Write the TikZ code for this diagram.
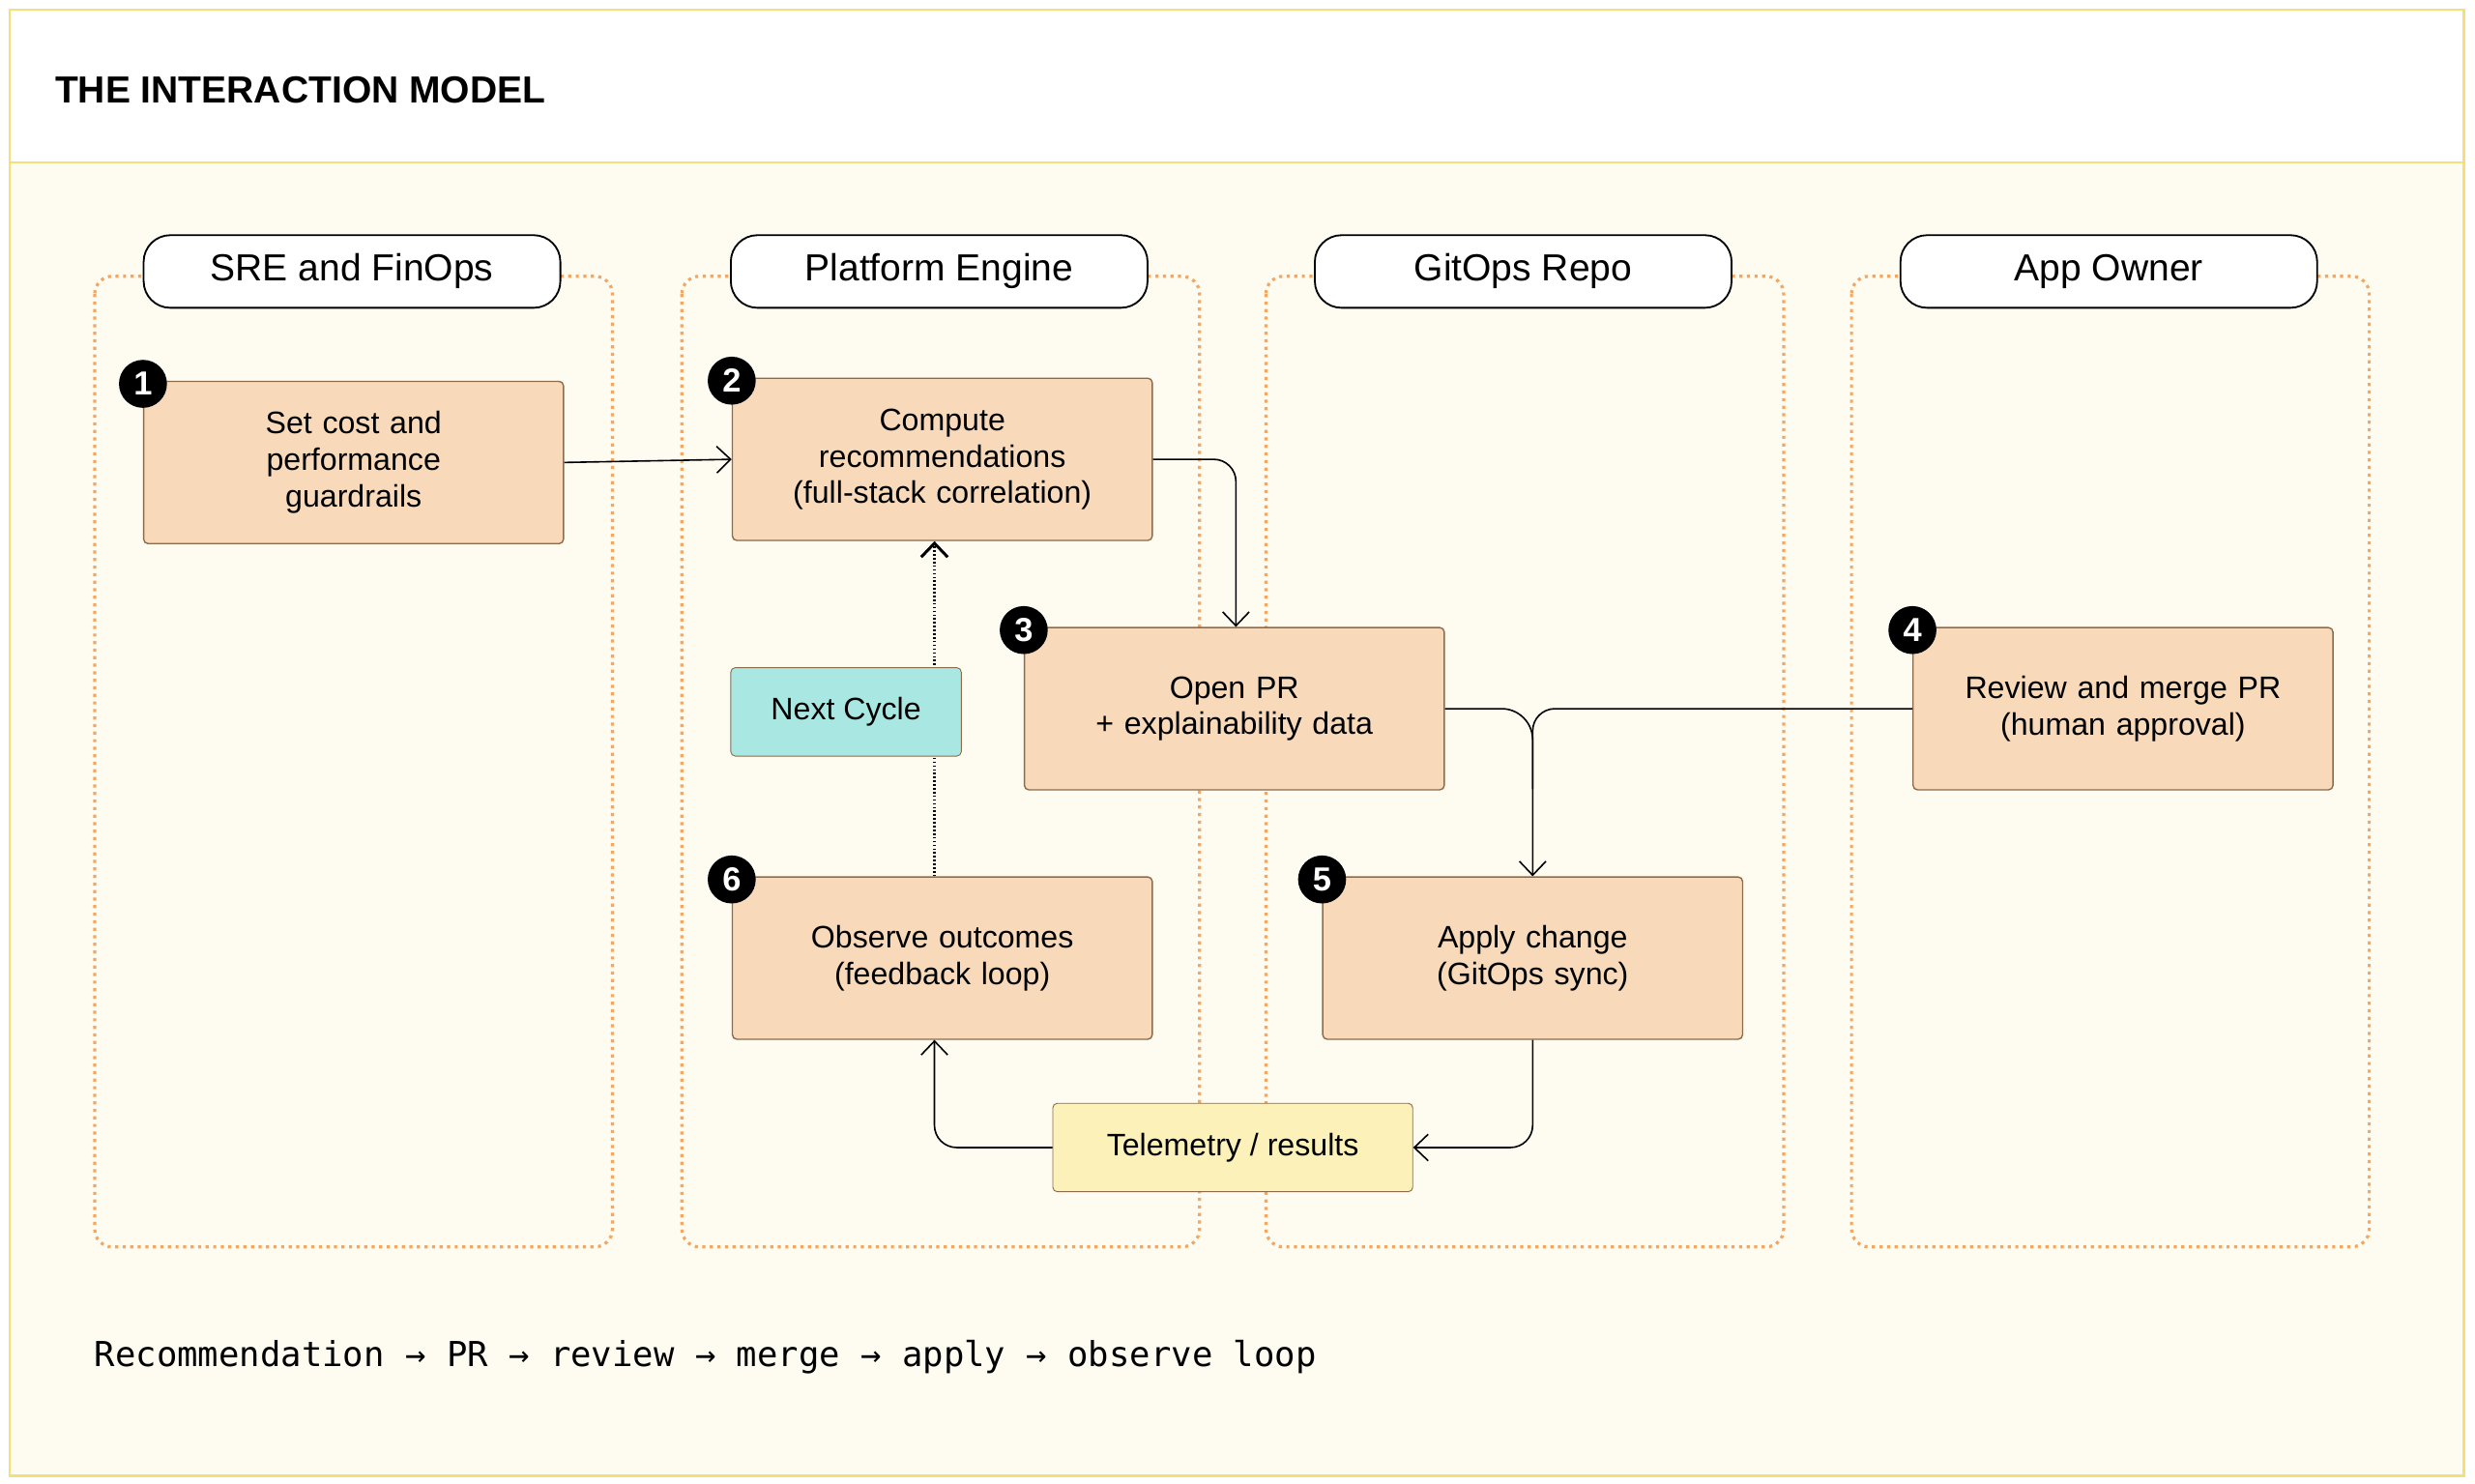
\documentclass[tikz,border=0pt]{standalone}
\usepackage{fontspec}
\setmainfont{Liberation Sans}
\newfontfamily\codefont{DejaVu Sans Mono}
\usepackage{tikz}
\usetikzlibrary{calc, positioning, arrows.meta, backgrounds}
\definecolor{frame}{HTML}{F3E07A}
\definecolor{paper}{HTML}{FEFBF0}
\definecolor{lanec}{HTML}{F2A765}
\definecolor{stepc}{HTML}{F8DABA}
\definecolor{stepd}{HTML}{8C6B4C}
\definecolor{cyclec}{HTML}{A9E8E2}
\definecolor{telec}{HTML}{FBF1B9}
\tikzstyle{lane}=[draw=lanec, line width=1.4pt, dotted, rounded corners=8pt]
\tikzstyle{pill}=[draw, fill=white, rounded corners=12pt, line width=0.8pt, minimum width=66mm, minimum height=11.5mm, font=\fontsize{17}{20}\selectfont]
\tikzstyle{stepbox}=[draw=stepd, fill=stepc, rounded corners=2pt, line width=0.6pt, minimum width=66.5mm, minimum height=25.7mm, text width=62mm, align=center, font=\fontsize{14}{16.5}\selectfont]
\tikzstyle{badge}=[circle, fill=black, text=white, inner sep=0pt, minimum size=7.6mm, font=\bfseries\fontsize{15}{15}\selectfont]
\tikzstyle{flow}=[-{Straight Barb[length=2.2mm, width=4.2mm]}, line width=0.7pt, rounded corners=10pt]
\tikzset{>=stealth}

\begin{document}
\begin{tikzpicture}[x=0.25mm, y=-0.25mm]
\useasboundingbox (0,0) rectangle (1568,940);
\fill[paper] (6,6) rectangle (1561,935);
\fill[white] (6,6) rectangle (1561,103);
\draw[frame, line width=1pt] (6,6) rectangle (1561,935);
\draw[frame, line width=1pt] (6,103) -- (1561,103);
\node[anchor=west, font=\bfseries\fontsize{17}{20}\selectfont] (title) at (30,57) {THE INTERACTION MODEL};

% swim lanes
\foreach \x/\nm/\txt in {60/sre/SRE and FinOps, 432/eng/Platform Engine, 802/git/GitOps Repo, 1173/app/App Owner / Dev}{
  \draw[lane] (\x,175) rectangle ++(328,615);
  \node[pill] (\nm) at (\x+163,172) {\txt};
}

% steps
\node[stepbox] (s1) at (224,293) {Set cost and\\performance\\guardrails};
\node[stepbox] (s2) at (597,291) {Compute\\recommendations\\(full-stack correlation)};
\node[stepbox] (s3) at (782,449) {Open PR\\+ explainability data};
\node[stepbox] (s4) at (1345,449) {Review and merge PR\\(human approval)};
\node[stepbox] (s5) at (971,607) {Apply change\\(GitOps sync)};
\node[stepbox] (s6) at (597,607) {Observe outcomes\\(feedback loop)};

\draw[flow, densely dotted, line width=1.3pt] (s6.north -| 592,0) -- (s2.south -| 592,0);
\node[draw=stepd, fill=cyclec, rounded corners=2pt, minimum width=36.5mm, minimum height=14mm, font=\fontsize{14}{16}\selectfont] (cyc) at (536,451) {Next Cycle};
\node[draw=stepd, fill=telec, rounded corners=2pt, minimum width=57mm, minimum height=14mm, font=\fontsize{14}{16}\selectfont] (tel) at (781,727) {Telemetry / results};

% badges
\foreach \n/\p in {1/s1, 2/s2, 3/s3, 4/s4, 5/s5, 6/s6}
  \node[badge] (b\n) at ($(\p.north west)+(0,2)$) {\n};

% connectors
\draw[flow] (s1.east) -- (s2.west);
\draw[flow] (s2.east) -| ($(s3.north)+(1,0)$);
\draw[line width=0.7pt, rounded corners=14pt] (s3.east) -| (971,500);
\draw[flow] (s4.west) -| (s5.north);
\draw[flow] (s5.south) |- (tel.east);
\draw[flow] (tel.west) -| (s6.south -| 592,0);

\node[anchor=west, font=\codefont\fontsize{15.5}{18}\selectfont] (loop) at (55,860) {Recommendation → PR → review → merge → apply → observe loop};
\end{tikzpicture}
\end{document}
